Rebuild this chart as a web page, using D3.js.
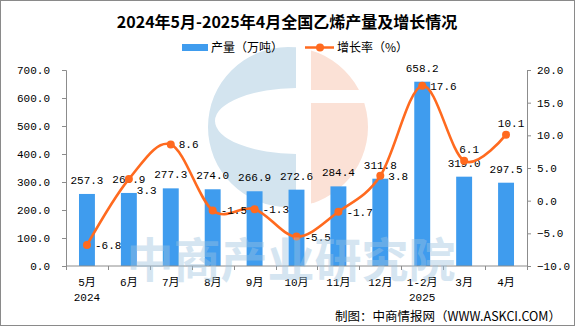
<!DOCTYPE html>
<html>
<head>
<meta charset="utf-8">
<script src="https://cdn.jsdelivr.net/npm/d3@7"></script>
<style>
    body { margin: 0; background: #fff; }
    .axis path, .axis line { stroke: #8c8c8c; }
    .axis text { font-family: "Liberation Mono", "Noto Sans CJK SC", monospace; font-size: 11px; fill: #000; }
    .val-label { font-family: "Liberation Mono", "Noto Sans CJK SC", monospace; font-size: 11px; fill: #000; }
    .cn-text { font-family: "Noto Sans CJK SC", sans-serif; fill: #000; }
</style>
</head>
<body>
<div id="chart-area"></div>
<script>
// months on the x axis
var months = ["5月", "6月", "7月", "8月", "9月", "10月", "11月", "12月", "1-2月", "3月", "4月"];
var yearLabels = ["2024", "", "", "", "", "", "", "", "2025", "", ""];
// ethylene output (10k tonnes) and year-on-year growth (%)
var output = [257.3, 260.9, 277.3, 274.0, 266.9, 272.6, 284.4, 311.8, 658.2, 319.0, 297.5];
var growth = [-6.8, 3.3, 8.6, -1.5, -1.3, -5.5, -1.7, 3.8, 17.6, 6.1, 10.1];
var leftTicks = [0, 100, 200, 300, 400, 500, 600, 700];
var rightTicks = [-10, -5, 0, 5, 10, 15, 20];

OutputChart = function(_parentElement) {
    this.parentElement = _parentElement;
    this.data = months.map(function(m, i) {
        return { month: m, year: yearLabels[i], output: output[i], growth: growth[i] };
    });
    this.initVis();
};

OutputChart.prototype.initVis = function() {
    var vis = this;

    vis.width = 575;
    vis.height = 326;
    vis.plot = { left: 66, right: 527, top: 70, bottom: 266 };

    vis.svg = d3.select("#" + vis.parentElement).append("svg")
        .attr("width", vis.width)
        .attr("height", vis.height);

    // outer frame
    vis.svg.append("rect")
        .attr("x", 0.5).attr("y", 0.5)
        .attr("width", vis.width - 1).attr("height", vis.height - 1)
        .attr("fill", "#fff")
        .attr("stroke", "#8a8a8a");

    vis.x = d3.scaleBand()
        .domain(months)
        .range([vis.plot.left, vis.plot.right])
        .paddingInner(0.62)
        .paddingOuter(0.31);

    vis.y = d3.scaleLinear().domain([0, 700]).range([vis.plot.bottom, vis.plot.top]);
    vis.y2 = d3.scaleLinear().domain([-10, 20]).range([vis.plot.bottom, vis.plot.top]);

    vis.growthLine = d3.line()
        .x(function(d) { return vis.x(d.month) + vis.x.bandwidth() / 2; })
        .y(function(d) { return vis.y2(d.growth); })
        .curve(d3.curveCardinal.tension(0));

    vis.drawLogo();
    vis.updateVis();
};

// faint company logo behind the plot
OutputChart.prototype.drawLogo = function() {
    var vis = this;
    var cx = 288, cy = 127, r = 80;
    var defs = vis.svg.append("defs");

    defs.append("clipPath").attr("id", "clip-left")
        .append("rect").attr("x", 0).attr("y", 0).attr("width", 296).attr("height", 326);

    var right = defs.append("clipPath").attr("id", "clip-right");
    right.append("rect").attr("x", 311).attr("y", 0).attr("width", 200).attr("height", 90);
    right.append("rect").attr("x", 311).attr("y", 103).attr("width", 200).attr("height", 200);

    // circle with an elliptical hole -> the "C" on the left
    var circlePath = d3.path();
    circlePath.arc(cx, cy, r, 0, 2 * Math.PI);
    var ring = circlePath.toString() +
        " M381,121 A83,33 0 1,0 215,121 A83,33 0 1,0 381,121 Z";

    vis.svg.append("path")
        .attr("d", ring)
        .attr("fill-rule", "evenodd")
        .attr("fill", "#d3e4ef")
        .attr("clip-path", "url(#clip-left)");

    vis.svg.append("circle")
        .attr("cx", cx).attr("cy", cy).attr("r", r)
        .attr("fill", "#fbe1d6")
        .attr("clip-path", "url(#clip-right)");
};

OutputChart.prototype.updateVis = function() {
    var vis = this;
    var bw = vis.x.bandwidth();

    // title
    vis.svg.append("text")
        .attr("class", "cn-text")
        .attr("x", 287).attr("y", 28)
        .attr("text-anchor", "middle")
        .style("font-size", "16px")
        .style("font-weight", "bold")
        .text("2024年5月-2025年4月全国乙烯产量及增长情况");

    // legend
    var legend = vis.svg.append("g").attr("class", "legend");
    legend.append("rect")
        .attr("x", 182).attr("y", 44).attr("width", 26).attr("height", 7)
        .attr("fill", "#3f9cee");
    legend.append("text")
        .attr("class", "cn-text")
        .attr("x", 211).attr("y", 52)
        .style("font-size", "12px")
        .text("产量（万吨）");
    legend.append("line")
        .attr("x1", 305).attr("x2", 334).attr("y1", 47.5).attr("y2", 47.5)
        .attr("stroke", "#ff6a1f").attr("stroke-width", 2.5);
    legend.append("circle")
        .attr("cx", 320).attr("cy", 47.5).attr("r", 4)
        .attr("fill", "#ff6a1f");
    legend.append("text")
        .attr("class", "cn-text")
        .attr("x", 337).attr("y", 52)
        .style("font-size", "12px")
        .text("增长率（%）");

    // bars
    vis.svg.selectAll(".bar")
        .data(vis.data)
        .enter().append("rect")
        .attr("class", "bar")
        .attr("x", function(d) { return vis.x(d.month); })
        .attr("y", function(d) { return vis.y(d.output); })
        .attr("width", bw)
        .attr("height", function(d) { return vis.plot.bottom - vis.y(d.output); })
        .attr("fill", "#3f9cee");

    // axes
    vis.svg.append("g")
        .attr("class", "axis y-axis")
        .attr("transform", "translate(" + vis.plot.left + ",0)")
        .call(d3.axisLeft(vis.y).tickValues(leftTicks).tickFormat(d3.format(".1f"))
            .tickSizeOuter(0).tickSize(4).tickPadding(12));

    vis.svg.append("g")
        .attr("class", "axis y2-axis")
        .attr("transform", "translate(" + vis.plot.right + ",0)")
        .call(d3.axisRight(vis.y2).tickValues(rightTicks).tickFormat(d3.format(".1f"))
            .tickSizeOuter(0).tickSize(4).tickPadding(6));

    var xAxis = vis.svg.append("g")
        .attr("class", "axis x-axis")
        .attr("transform", "translate(0," + vis.plot.bottom + ")");
    xAxis.append("line")
        .attr("x1", vis.plot.left).attr("x2", vis.plot.right)
        .attr("stroke", "#8c8c8c");
    // tick marks between the month bands
    var bounds = d3.range(months.length + 1).map(function(i) {
        return vis.plot.left + (vis.plot.right - vis.plot.left) * i / months.length;
    });
    xAxis.selectAll(".tick-mark")
        .data(bounds)
        .enter().append("line")
        .attr("class", "tick-mark")
        .attr("x1", function(d) { return Math.round(d) + 0.5; })
        .attr("x2", function(d) { return Math.round(d) + 0.5; })
        .attr("y1", 0).attr("y2", 4)
        .attr("stroke", "#8c8c8c");
    xAxis.selectAll(".month-label")
        .data(vis.data)
        .enter().append("text")
        .attr("class", "month-label")
        .attr("x", function(d) { return vis.x(d.month) + bw / 2; })
        .attr("y", 20)
        .attr("text-anchor", "middle")
        .text(function(d) { return d.month; });
    xAxis.selectAll(".year-label")
        .data(vis.data.filter(function(d) { return d.year !== ""; }))
        .enter().append("text")
        .attr("class", "year-label")
        .attr("x", function(d) { return vis.x(d.month) + bw / 2; })
        .attr("y", 35)
        .attr("text-anchor", "middle")
        .text(function(d) { return d.year; });

    // bar value labels
    vis.svg.selectAll(".bar-label")
        .data(vis.data)
        .enter().append("text")
        .attr("class", "val-label bar-label")
        .attr("x", function(d) { return vis.x(d.month) + bw / 2; })
        .attr("y", function(d) { return vis.y(d.output) - 10; })
        .attr("text-anchor", "middle")
        .text(function(d) { return d.output.toFixed(1); });

    // growth rate line
    vis.svg.append("path")
        .datum(vis.data)
        .attr("d", vis.growthLine)
        .attr("fill", "none")
        .attr("stroke", "#ff6a1f")
        .attr("stroke-width", 2.6);

    vis.svg.selectAll(".growth-dot")
        .data(vis.data)
        .enter().append("circle")
        .attr("class", "growth-dot")
        .attr("cx", function(d) { return vis.x(d.month) + bw / 2; })
        .attr("cy", function(d) { return vis.y2(d.growth); })
        .attr("r", 4)
        .attr("fill", "#ff6a1f");

    // growth labels sit to the right, except the last two which sit above
    var above = { "3月": true, "4月": true };
    vis.svg.selectAll(".growth-label")
        .data(vis.data)
        .enter().append("text")
        .attr("class", "val-label growth-label")
        .attr("x", function(d) {
            var cx = vis.x(d.month) + bw / 2;
            return above[d.month] ? cx + 5 : cx + 8;
        })
        .attr("y", function(d) {
            var cy = vis.y2(d.growth);
            if (above[d.month]) return cy - 8;
            if (d.month === "6月") return cy + 15;
            return cy + 4;
        })
        .attr("text-anchor", function(d) { return above[d.month] ? "middle" : "start"; })
        .text(function(d) { return d.growth.toFixed(1); });

    // watermark text over the plot
    vis.svg.append("text")
        .attr("class", "cn-text")
        .attr("x", 291).attr("y", 277)
        .attr("text-anchor", "middle")
        .style("font-size", "47px")
        .style("font-weight", "bold")
        .style("fill", "#9dc3e0")
        .style("opacity", 0.42)
        .text("中商产业研究院");

    // source note
    vis.svg.append("text")
        .attr("class", "cn-text")
        .attr("x", 561).attr("y", 321)
        .attr("text-anchor", "end")
        .style("font-size", "12.5px")
        .text("制图：中商情报网（WWW.ASKCI.COM）");
};

new OutputChart("chart-area");
</script>
</body>
</html>
